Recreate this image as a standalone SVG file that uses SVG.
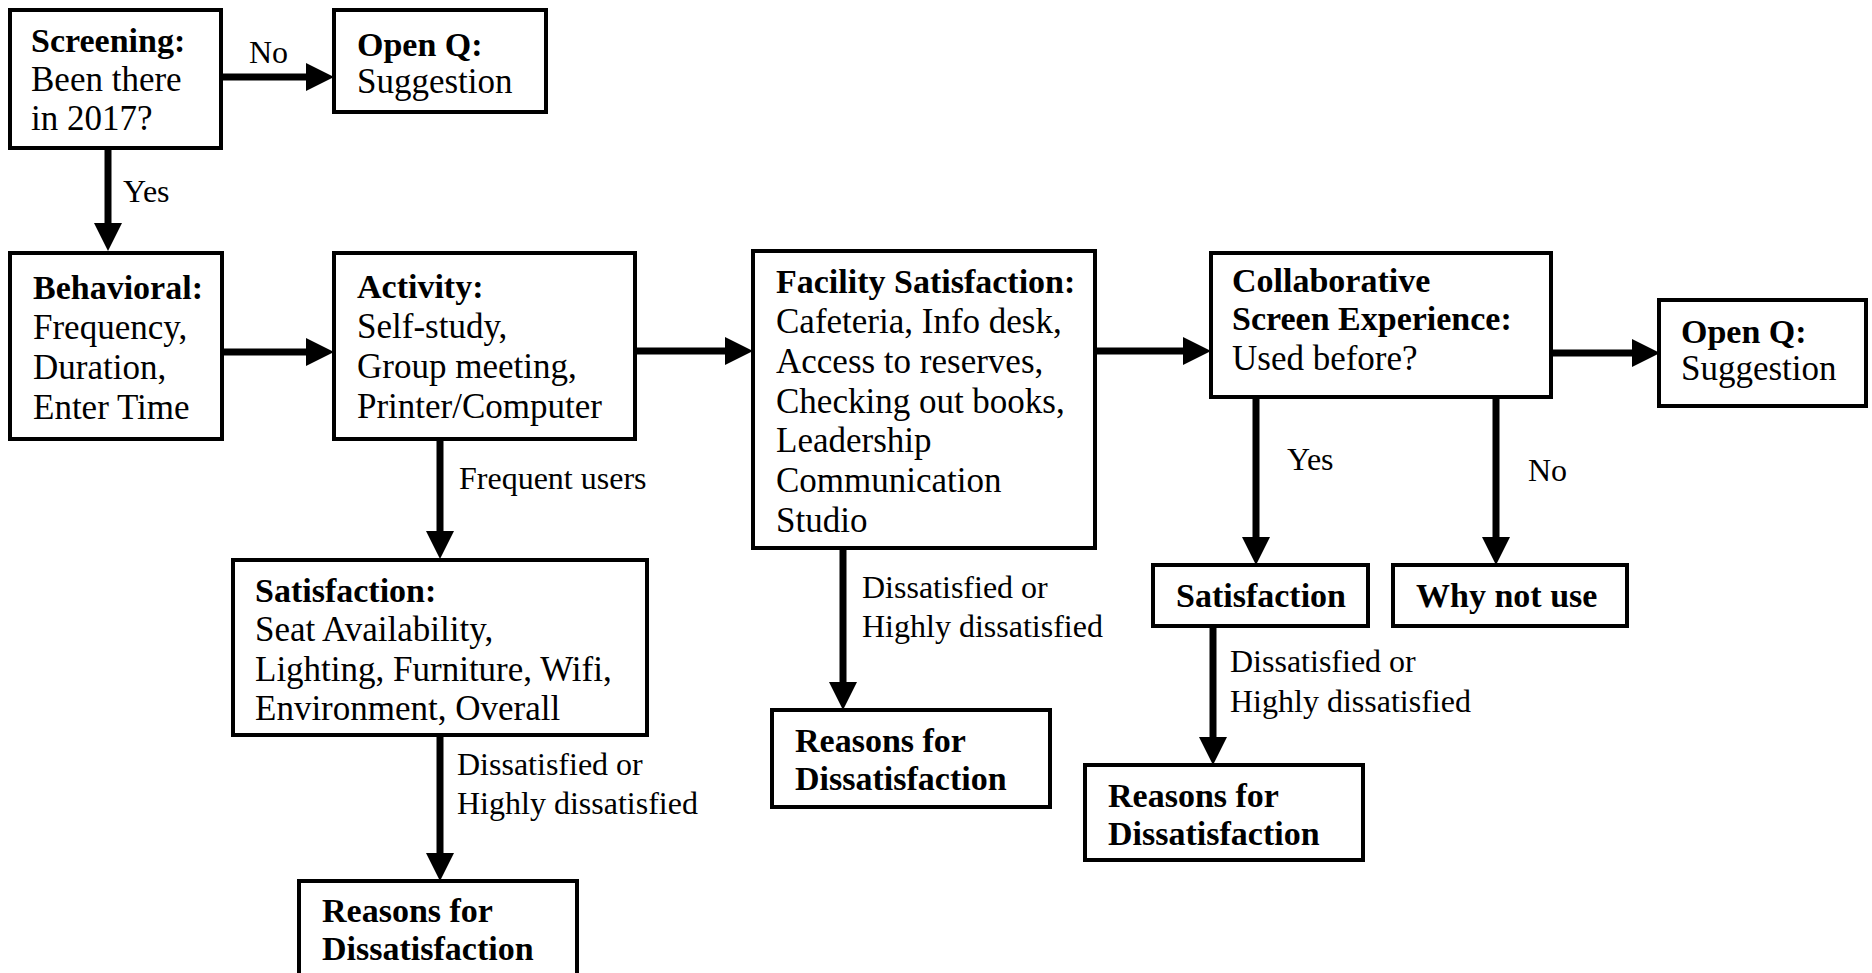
<svg xmlns="http://www.w3.org/2000/svg" width="1872" height="973" viewBox="0 0 1872 973">
<defs>
<style>
.box{fill:#fff;stroke:#000;stroke-width:4}
.t{font-family:"Liberation Serif","Times New Roman",serif;font-size:35px;fill:#000}
.b{font-weight:bold;font-size:34px}
.lbl{font-family:"Liberation Serif","Times New Roman",serif;font-size:32px;fill:#000}
.c{stroke:#000;stroke-width:7;fill:none;marker-end:url(#ah)}
</style>
<marker id="ah" markerUnits="userSpaceOnUse" markerWidth="28" markerHeight="28" refX="0" refY="14" orient="auto" viewBox="0 0 28 28">
<path d="M0,0 L28,14 L0,28 z" fill="#000"/>
</marker>
</defs>
<rect width="1872" height="973" fill="#fff"/>
<g id="connectors">
<line class="c" x1="222" y1="77" x2="306" y2="77"/>
<line class="c" x1="108" y1="149" x2="108" y2="223"/>
<line class="c" x1="222" y1="352" x2="306" y2="352"/>
<line class="c" x1="635" y1="351" x2="725" y2="351"/>
<line class="c" x1="440" y1="439" x2="440" y2="531"/>
<line class="c" x1="440" y1="735" x2="440" y2="853"/>
<line class="c" x1="1095" y1="351" x2="1183" y2="351"/>
<line class="c" x1="843" y1="548" x2="843" y2="682"/>
<line class="c" x1="1551" y1="353" x2="1632" y2="353"/>
<line class="c" x1="1256" y1="397" x2="1256" y2="537"/>
<line class="c" x1="1496" y1="397" x2="1496" y2="537"/>
<line class="c" x1="1213" y1="625" x2="1213" y2="737"/>
<text class="lbl" x="249" y="63">No</text>
<text class="lbl" x="123" y="202">Yes</text>
<text class="lbl" x="459" y="489">Frequent users</text>
<text class="lbl" x="457" y="775">Dissatisfied or</text>
<text class="lbl" x="457" y="814">Highly dissatisfied</text>
<text class="lbl" x="862" y="598">Dissatisfied or</text>
<text class="lbl" x="862" y="637">Highly dissatisfied</text>
<text class="lbl" x="1287" y="470">Yes</text>
<text class="lbl" x="1528" y="481">No</text>
<text class="lbl" x="1230" y="672">Dissatisfied or</text>
<text class="lbl" x="1230" y="712">Highly dissatisfied</text>
</g>
<g id="screening">
<rect class="box" x="10" y="10" width="211" height="138"/>
<text class="t"><tspan class="b" x="31" y="52">Screening:</tspan><tspan x="31" y="91">Been there</tspan><tspan x="31" y="130">in 2017?</tspan></text>
</g>
<g id="openq1">
<rect class="box" x="334" y="10" width="212" height="102"/>
<text class="t"><tspan class="b" x="357" y="56">Open Q:</tspan><tspan x="357" y="93">Suggestion</tspan></text>
</g>
<g id="behavioral">
<rect class="box" x="10" y="253" width="212" height="186"/>
<text class="t"><tspan class="b" x="33" y="299">Behavioral:</tspan><tspan x="33" y="339">Frequency,</tspan><tspan x="33" y="379">Duration,</tspan><tspan x="33" y="419">Enter Time</tspan></text>
</g>
<g id="activity">
<rect class="box" x="334" y="253" width="301" height="186"/>
<text class="t"><tspan class="b" x="357" y="298">Activity:</tspan><tspan x="357" y="338">Self-study,</tspan><tspan x="357" y="378">Group meeting,</tspan><tspan x="357" y="418">Printer/Computer</tspan></text>
</g>
<g id="satisfaction1">
<rect class="box" x="233" y="560" width="414" height="175"/>
<text class="t"><tspan class="b" x="255" y="602">Satisfaction:</tspan><tspan x="255" y="641">Seat Availability,</tspan><tspan x="255" y="681">Lighting, Furniture, Wifi,</tspan><tspan x="255" y="720">Environment, Overall</tspan></text>
</g>
<g id="reasons1">
<rect class="box" x="299" y="881" width="278" height="110"/>
<text class="t b"><tspan x="322" y="922">Reasons for</tspan><tspan x="322" y="960">Dissatisfaction</tspan></text>
</g>
<g id="facility">
<rect class="box" x="753" y="251" width="342" height="297"/>
<text class="t"><tspan class="b" x="776" y="293">Facility Satisfaction:</tspan><tspan x="776" y="333">Cafeteria, Info desk,</tspan><tspan x="776" y="373">Access to reserves,</tspan><tspan x="776" y="413">Checking out books,</tspan><tspan x="776" y="452">Leadership</tspan><tspan x="776" y="492">Communication</tspan><tspan x="776" y="532">Studio</tspan></text>
</g>
<g id="reasons2">
<rect class="box" x="772" y="710" width="278" height="97"/>
<text class="t b"><tspan x="795" y="752">Reasons for</tspan><tspan x="795" y="790">Dissatisfaction</tspan></text>
</g>
<g id="collab">
<rect class="box" x="1211" y="253" width="340" height="144"/>
<text class="t"><tspan class="b" x="1232" y="292">Collaborative</tspan><tspan class="b" x="1232" y="330">Screen Experience:</tspan><tspan x="1232" y="370">Used before?</tspan></text>
</g>
<g id="openq2">
<rect class="box" x="1659" y="300" width="207" height="106"/>
<text class="t"><tspan class="b" x="1681" y="343">Open Q:</tspan><tspan x="1681" y="380">Suggestion</tspan></text>
</g>
<g id="satisfaction2">
<rect class="box" x="1153" y="565" width="215" height="61"/>
<text class="t b" x="1176" y="607">Satisfaction</text>
</g>
<g id="whynot">
<rect class="box" x="1393" y="565" width="234" height="61"/>
<text class="t b" x="1416" y="607">Why not use</text>
</g>
<g id="reasons3">
<rect class="box" x="1085" y="765" width="278" height="95"/>
<text class="t b"><tspan x="1108" y="807">Reasons for</tspan><tspan x="1108" y="845">Dissatisfaction</tspan></text>
</g>
</svg>
